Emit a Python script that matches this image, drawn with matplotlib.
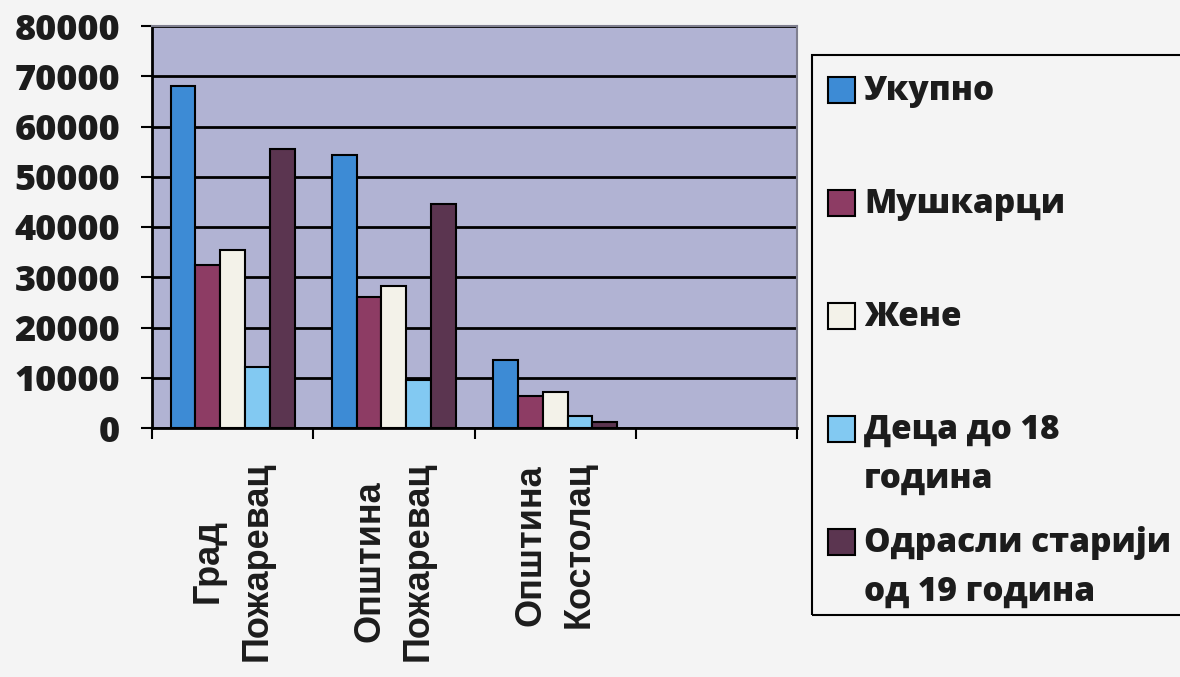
import matplotlib
matplotlib.use("Agg")
import matplotlib.pyplot as plt
from matplotlib.patches import Rectangle
import numpy as np

# Подаци (очитано са графикона)
categories = ["Град\nПожаревац", "Општина\nПожаревац", "Општина\nКостолац"]
series_names = ["Укупно", "Мушкарци", "Жене", "Деца до 18\nгодина", "Одрасли старији\nод 19 година"]
ukupno = [68000, 54400, 13500]
muskarci = [32400, 26000, 6400]
zene = [35500, 28300, 7100]
deca = [12200, 9500, 2400]
odrasli = [55600, 44500, 1100]
y_ticks = [0, 10000, 20000, 30000, 40000, 50000, 60000, 70000, 80000]

colors = ["#3d8bd5", "#8d3c64", "#f3f2e9", "#82c9f2", "#5b3550"]
series = [ukupno, muskarci, zene, deca, odrasli]

fig = plt.figure(figsize=(11.8, 6.77), dpi=100, facecolor="#f4f4f4")
ax = fig.add_axes([152 / 1180, 1 - 428 / 677, (797 - 152) / 1180, (428 - 26) / 677])
ax.set_facecolor("#b1b3d3")

n_series = len(series)
width = 1 / (n_series + 1.5)
x = np.arange(len(categories))
for i, (vals, col) in enumerate(zip(series, colors)):
    offs = (i - (n_series - 1) / 2) * width
    ax.bar(x + offs, vals, width, color=col, edgecolor="black", linewidth=1.5, zorder=3)

ax.set_xlim(-0.5, 3.5)
ax.set_ylim(0, 80000)
ax.set_yticks(y_ticks)
ax.set_yticklabels([str(v) for v in y_ticks], fontsize=26, fontweight="heavy",
                   family="Open Sans", color="#1c1c1c")
ax.yaxis.grid(True, color="black", linewidth=2, zorder=1)
ax.set_axisbelow(True)
ax.tick_params(axis="y", direction="out", length=8, width=1.5, pad=15)

# категорије: ознаке у средини, црте на границама
ax.set_xticks(x)
ax.set_xticklabels(categories, rotation=90, fontsize=26, fontweight="bold",
                   family="Liberation Sans", ha="center", va="top",
                   multialignment="center", linespacing=1.5, color="#1c1c1c")
ax.tick_params(axis="x", which="major", length=0, pad=24)
ax.set_xticks(np.arange(-0.5, 4, 1), minor=True)
ax.tick_params(axis="x", which="minor", direction="out", length=8, width=1.5)

for s in ["left", "bottom"]:
    ax.spines[s].set_color("black")
    ax.spines[s].set_linewidth(2)
for s in ["top", "right"]:
    ax.spines[s].set_color("#7f7f8f")
    ax.spines[s].set_linewidth(1.5)

# легенда
fig.patches.append(Rectangle((812 / 1180, 1 - 615 / 677), 0.4, (615 - 55) / 677,
                             transform=fig.transFigure, facecolor="none",
                             edgecolor="black", linewidth=1.5))
for i, (name, col) in enumerate(zip(series_names, colors)):
    yc = 90 + i * 113
    fig.patches.append(Rectangle((828 / 1180, 1 - (yc + 13) / 677), 27 / 1180, 26 / 677,
                                 transform=fig.transFigure, facecolor=col,
                                 edgecolor="black", linewidth=1.5))
    fig.text(864 / 1180, 1 - (yc - 16) / 677, name, fontsize=24, fontweight="heavy",
             family="Open Sans", va="top", ha="left", linespacing=1.55, color="#1c1c1c")

fig.savefig("out.png", dpi=100, facecolor=fig.get_facecolor())
